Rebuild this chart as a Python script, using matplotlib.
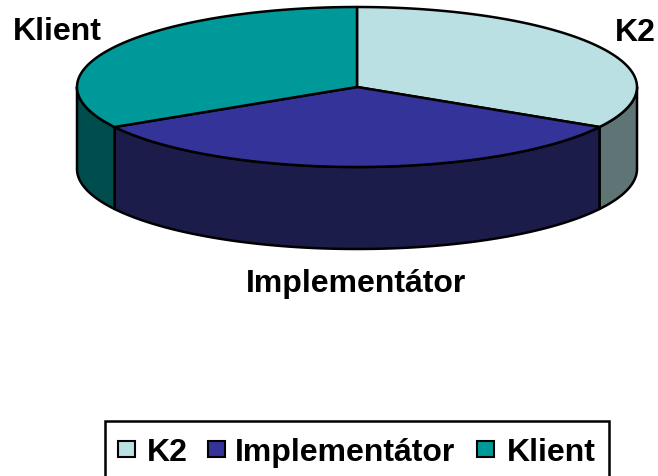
import matplotlib.pyplot as plt
from matplotlib.patches import Polygon, Rectangle
import numpy as np

labels = ['K2', 'Implementátor', 'Klient']
values = [1, 1, 1]
top_colors = ['#BBE0E3', '#333399', '#009999']
side_colors = ['#5F7474', '#1C1C4A', '#004D4D']

plt.rcParams['font.family'] = ['Liberation Sans', 'DejaVu Sans']

fig = plt.figure(figsize=(6.58, 4.77), dpi=100)
ax = fig.add_axes([0, 0, 1, 1])
ax.set_xlim(0, 658)
ax.set_ylim(477, 0)
ax.axis('off')

# ellipse geometry (pixels)
cx, cy = 357, 88
a, b = 280, 80
depth = 82


def arc(t1, t2, dy=0, n=120):
    t = np.radians(np.linspace(t1, t2, n))
    return np.column_stack([cx + a * np.cos(t), cy - b * np.sin(t) + dy])


fracs = np.array(values, dtype=float) / sum(values)
starts = 90 - 360 * np.concatenate([[0], np.cumsum(fracs)[:-1]])
ends = starts - 360 * fracs

# outer walls (front half only)
for s, e, col in zip(starts, ends, side_colors):
    hi = min(s, 0)
    lo = max(e, -180)
    if hi <= lo:
        continue
    top = arc(hi, lo)
    bot = arc(lo, hi, dy=depth)
    ax.add_patch(Polygon(np.vstack([top, bot]), closed=True, fc=col,
                         ec='black', lw=1.8, joinstyle='round'))

# top faces
for s, e, col in zip(starts, ends, top_colors):
    pts = np.vstack([[cx, cy], arc(s, e)])
    ax.add_patch(Polygon(pts, closed=True, fc=col, ec='black', lw=1.8,
                         joinstyle='round'))

font = dict(fontsize=23, fontweight='bold', color='black')
ax.text(57, 40, 'Klient', ha='center', va='baseline', **font)
ax.text(635, 41, 'K2', ha='center', va='baseline', **font)
ax.text(356, 292, 'Implementátor', ha='center', va='baseline', **font)

# legend
ax.add_patch(Rectangle((105, 422), 504, 80, fc='white', ec='black', lw=1.8,
                       clip_on=False))
marker_x = [118, 208, 477]
text_x = [147, 235, 507]
for mx, tx, lab, col in zip(marker_x, text_x, labels, top_colors):
    ax.add_patch(Rectangle((mx, 442), 17, 16, fc=col, ec='black', lw=1.5))
    ax.text(tx, 461, lab, ha='left', va='baseline', **font)

fig.savefig('out.png', dpi=100)
